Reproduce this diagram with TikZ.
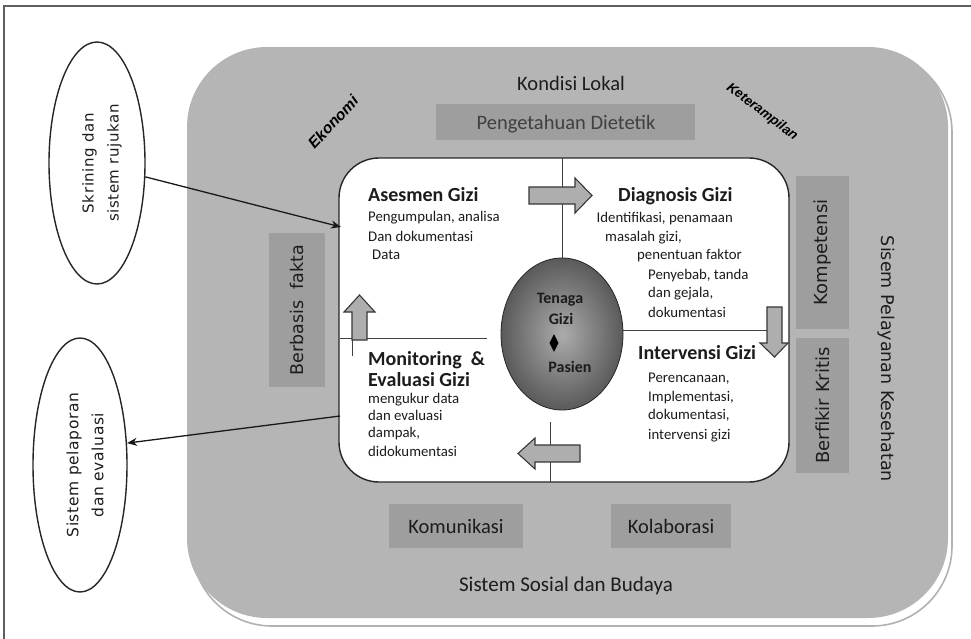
\documentclass[tikz,border=0pt]{standalone}
\usepackage{fontspec}
\setmainfont{Carlito}
\newfontfamily\dvs{DejaVu Sans}
\newfontfamily\dvswide[LetterSpace=4]{DejaVu Sans}
\newfontfamily\lsans{Liberation Sans}
\usetikzlibrary{shapes.geometric,arrows.meta}

\definecolor{bggray}{RGB}{181,181,181}
\definecolor{boxgray}{RGB}{158,158,158}
\definecolor{arrgray}{RGB}{174,174,174}
\definecolor{arrline}{RGB}{55,55,55}
\definecolor{ink}{RGB}{28,28,28}
\definecolor{framegray}{RGB}{95,95,95}
\definecolor{eggin}{RGB}{172,172,172}
\definecolor{eggout}{RGB}{90,90,90}

\begin{document}
\begin{tikzpicture}[x=1pt,y=-1pt,
  graybox/.style={fill=boxgray, draw=none, inner sep=0pt},
  boxtext/.style={font=\fontsize{20.5}{24}\selectfont, text=ink, inner sep=0pt},
  vtext/.style={font=\dvs\fontsize{18}{21}\selectfont, text=ink, rotate=90, inner sep=0pt},
  heading/.style={font=\fontsize{20}{23}\selectfont\bfseries, text=ink, anchor=base west, inner sep=0pt},
  body/.style={font=\fontsize{14.8}{17}\selectfont, text=ink, anchor=base west, inner sep=0pt},
  slanted/.style={font=\lsans\bfseries\itshape\fontsize{15.5}{17}\selectfont, text=black, inner sep=0pt},
  eggtext/.style={font=\fontsize{16}{18}\selectfont\bfseries, text=ink, inner sep=0pt},
  blockarr/.style={fill=arrgray, draw=arrline, line width=1.1pt, line join=miter},
  bubble/.style={ellipse, draw=black!85, line width=1.4pt, fill=white, inner sep=0pt},
  divider/.style={draw=black!75, line width=0.9pt},
  link/.style={-{Stealth[length=10pt, width=8pt]}, line width=1.3pt, draw=black!90}
]
\useasboundingbox (0,0) rectangle (971,638);
\fill[white] (0,0) rectangle (971,638);

% page frame
\draw[framegray, line width=1.2pt] (4,640) -- (4,6) -- (975,6);

% outer field: shadow line, then the grey area
\draw[gray!60, line width=1.6pt, rounded corners=80pt] (192,52) rectangle (952,626);
\fill[bggray, rounded corners=80pt] (187,47) rectangle (948,618);

% side ellipses
\node[bubble, minimum width=96pt, minimum height=242pt] (skr) at (97,163) {};
\node[font=\dvswide\fontsize{15}{25}\selectfont, text=ink, rotate=90, align=center, inner sep=0pt] (skrtext) at (102,163) {Skrining dan\\sistem rujukan};
\node[bubble, minimum width=94pt, minimum height=254pt] (lap) at (80,465) {};
\node[font=\dvswide\fontsize{15.5}{25}\selectfont, text=ink, rotate=90, align=center, inner sep=0pt] (laptext) at (85,465) {Sistem pelaporan\\dan evaluasi};

% labels of the outer field
\node[font=\fontsize{20.5}{24}\selectfont, text=ink, inner sep=0pt] (lokal) at (571,83) {Kondisi Lokal};
\node[font=\fontsize{21}{24}\selectfont, text=ink, inner sep=0pt] (sosbud) at (566,586) {Sistem Sosial dan Budaya};
\node[slanted, rotate=47] (eko) at (333,122) {Ekonomi};
\node[slanted, rotate=-37, font=\lsans\bfseries\itshape\fontsize{13.5}{15}\selectfont] (ket) at (762,112) {Keterampilan};
\node[font=\dvs\fontsize{17.5}{20}\selectfont, text=ink, rotate=-90, inner sep=0pt] (yankes) at (886,359) {Sisem Pelayanan Kesehatan};

% grey boxes
\node[graybox, minimum width=259pt, minimum height=36pt] (diet) at (565.5,122) {};
\node[boxtext, text=black!75] (diettext) at (566,124) {Pengetahuan Dietetik};
\node[graybox, minimum width=53pt, minimum height=153pt] (komp) at (822.5,252.5) {};
\node[vtext] (komptext) at (822.5,252.5) {Kompetensi};
\node[graybox, minimum width=53pt, minimum height=135pt] (kritis) at (822.5,405.5) {};
\node[vtext] (kritistext) at (822.5,405.5) {Berfikir Kritis};
\node[graybox, minimum width=56pt, minimum height=154pt] (fakta) at (297,310) {};
\node[vtext, font=\dvs\fontsize{17.5}{21}\selectfont] (faktatext) at (297,310) {Berbasis~~fakta};
\node[graybox, minimum width=134pt, minimum height=44pt] (komu) at (456,526) {};
\node[boxtext] (komutext) at (456,526) {Komunikasi};
\node[graybox, minimum width=120pt, minimum height=44pt] (kola) at (671,526) {};
\node[boxtext] (kolatext) at (671,526) {Kolaborasi};

% central care-process panel
\node[draw=black!85, line width=1.4pt, fill=white, rounded corners=40pt,
      minimum width=450pt, minimum height=324pt, inner sep=0pt] (core) at (564,320) {};

% dividers
\draw[divider] (562,158) -- (562,259);
\draw[divider] (550,422) -- (550,482);
\draw[divider] (340,338) -- (487,338);
\draw[divider] (603,330) -- (775,330);
\draw[divider] (352,338) -- (352,356);

% centre: dietitian and patient
\node[ellipse, minimum width=122pt, minimum height=152pt, inner sep=0pt,
      inner color=eggin, outer color=eggout, draw=gray!30!black, line width=0.8pt] (tg) at (562,334) {};
\node[eggtext] (tena) at (560,300) {Tenaga};
\node[eggtext] (gizi) at (561,319) {Gizi};
\node[diamond, fill=black, inner sep=0pt, minimum width=9pt, minimum height=18pt, aspect=0.5] (dia) at (554,343) {};
\node[eggtext] (pas) at (570,367) {Pasien};

% block arrows of the cycle
\draw[blockarr] (529,187) -- (575,187) -- (575,178) -- (592,195.5) -- (575,213) -- (575,204) -- (529,204) -- cycle;
\draw[blockarr] (767,307) -- (782,307) -- (782,343) -- (788,343) -- (774.5,357) -- (760,343) -- (767,343) -- cycle;
\draw[blockarr] (580,445) -- (535,445) -- (535,438) -- (518,453.5) -- (535,469) -- (535,462) -- (580,462) -- cycle;
\draw[blockarr] (352,340) -- (352,312) -- (344,312) -- (359.5,295) -- (375,312) -- (367,312) -- (367,340) -- cycle;

% step 1
\node[heading] (h1) at (368,201) {Asesmen Gizi};
\node[body] (a1) at (368,221.5) {Pengumpulan, analisa};
\node[body] (a2) at (368,241.5) {Dan dokumentasi};
\node[body] (a3) at (372,259.5) {Data};

% step 2
\node[heading] (h2) at (618,201) {Diagnosis Gizi};
\node[body, anchor=base east] (d1) at (733,222.5) {Identifikasi, penamaan};
\node[body] (d2) at (605,241.5) {masalah gizi,};
\node[body] (d3) at (637,259.5) {penentuan faktor};
\node[body] (d4) at (648,279.5) {Penyebab, tanda};
\node[body] (d5) at (648,297.5) {dan gejala,};
\node[body] (d6) at (648,317.5) {dokumentasi};

% step 3
\node[heading] (h3) at (638,359) {Intervensi Gizi};
\node[body] (i1) at (648,382.5) {Perencanaan,};
\node[body] (i2) at (648,401.5) {Implementasi,};
\node[body] (i3) at (648,419.5) {dokumentasi,};
\node[body] (i4) at (648,439.5) {intervensi gizi};

% step 4
\node[heading] (h4a) at (368,365) {Monitoring~~\&};
\node[heading] (h4b) at (368,386) {Evaluasi Gizi};
\node[body] (m1) at (368,403.5) {mengukur data};
\node[body] (m2) at (368,420.5) {dan evaluasi};
\node[body] (m3) at (368,437.5) {dampak,};
\node[body] (m4) at (368,456.5) {didokumentasi};

% links to the side systems
\coordinate (asIn) at (341,227);
\coordinate (evOut) at (340,416);
\draw[link] (skr.-16) -- (asIn);
\draw[link] (evOut) -- (lap.25);
\end{tikzpicture}
\end{document}
